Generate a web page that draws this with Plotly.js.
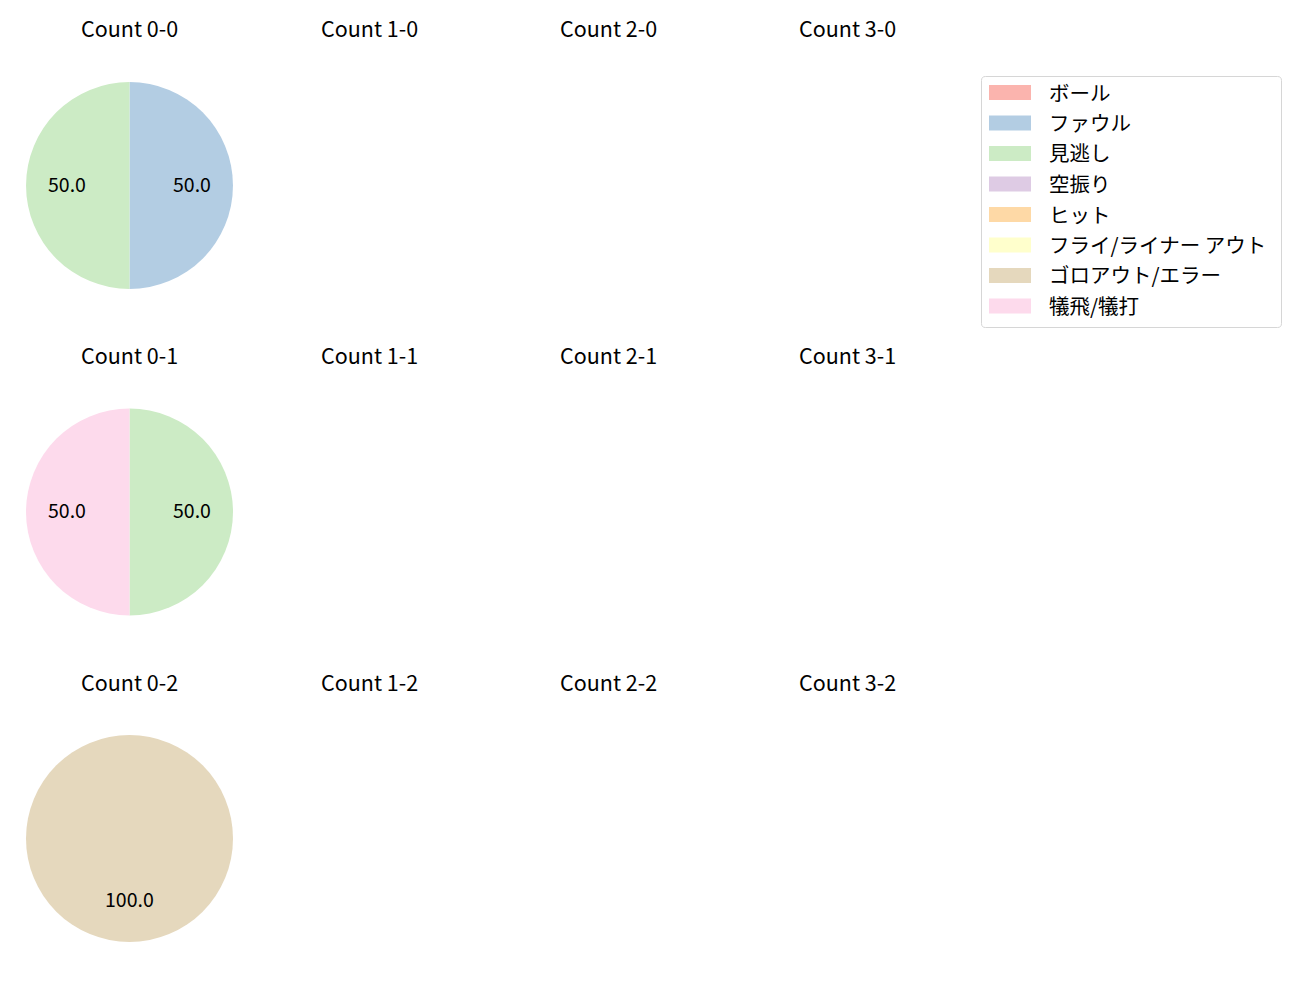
<!DOCTYPE html>
<html>
<head>
<meta charset="utf-8">
<script src="https://cdn.plot.ly/plotly-3.0.1.min.js"></script>
<style>html,body{margin:0;padding:0;background:#fff;}</style>
</head>
<body>
<div id="chart" style="width:1300px;height:1000px;"></div>
<script>
// ---- data ----
const categories = ['ボール','ファウル','見逃し','空振り','ヒット','フライ/ライナー アウト','ゴロアウト/エラー','犠飛/犠打'];
const colors = ['#fbb4ae','#b3cde3','#ccebc5','#decbe4','#fed9a6','#ffffcc','#e5d8bd','#fddaec'];
const countLabels = [
  ['0-0','1-0','2-0','3-0'],
  ['0-1','1-1','2-1','3-1'],
  ['0-2','1-2','2-2','3-2']
];
// percentages per category (same order as categories)
const count00 = [0, 50, 50, 0, 0, 0, 0, 0];
const count01 = [0, 0, 50, 0, 0, 0, 0, 50];
const count02 = [0, 0, 0, 0, 0, 0, 100, 0];
const countValues = {'0-0': count00, '0-1': count01, '0-2': count02};

// ---- layout geometry (pixels) ----
const W = 1300, H = 1000;
const colCenters = [129.5, 369, 608.5, 848];
const rowCenters = [185.5, 512, 838.5];
const R = 103.5;
const titleY = [27, 354, 681];
const FONT = '"Noto Sans CJK JP", "Noto Sans", sans-serif';

const data = [];
const annotations = [];
const shapes = [];

for (let r = 0; r < 3; r++) {
  for (let c = 0; c < 4; c++) {
    const key = countLabels[r][c];
    const cx = colCenters[c], cy = rowCenters[r];
    annotations.push({
      text: 'Count ' + key, x: cx / W, y: 1 - titleY[r] / H,
      xref: 'paper', yref: 'paper', xanchor: 'center', yanchor: 'middle',
      showarrow: false, font: {family: FONT, size: 21.5, color: '#000'}
    });
    const vals = countValues[key];
    if (!vals) continue;
    const labs = [], vs = [], cols = [];
    vals.forEach((v, i) => { if (v > 0) { labs.push(categories[i]); vs.push(v); cols.push(colors[i]); } });
    data.push({
      type: 'pie', labels: labs, values: vs, sort: false, direction: 'clockwise', rotation: 0,
      marker: {colors: cols, line: {width: 0}},
      textinfo: 'none', hoverinfo: 'label+percent', showlegend: false,
      domain: {x: [(cx - R) / W, (cx + R) / W], y: [1 - (cy + R) / H, 1 - (cy - R) / H]}
    });
    // percentage labels at 0.6 radius (mid-angle of each slice)
    const total = vs.reduce((a, b) => a + b, 0);
    let cum = 0;
    vs.forEach(v => {
      const mid = (cum + v / 2) / total * 2 * Math.PI;
      cum += v;
      const tx = cx + 0.6 * R * Math.sin(mid);
      const ty = cy - 0.6 * R * Math.cos(mid) - 2.5;
      annotations.push({
        text: (v / total * 100).toFixed(1), x: tx / W, y: 1 - ty / H,
        xref: 'paper', yref: 'paper', xanchor: 'center', yanchor: 'middle',
        showarrow: false, font: {family: FONT, size: 19.5, color: '#000'}
      });
    });
  }
}

// ---- legend (drawn from categories/colors) ----
const legX0 = 981.5, legY0 = 76.5, legX1 = 1281.5, legY1 = 327.5, rad = 4;
const px = x => (x / W).toFixed(6), py = y => (1 - y / H).toFixed(6);
const framePath =
  'M' + px(legX0 + rad) + ',' + py(legY0) +
  ' L' + px(legX1 - rad) + ',' + py(legY0) +
  ' Q' + px(legX1) + ',' + py(legY0) + ' ' + px(legX1) + ',' + py(legY0 + rad) +
  ' L' + px(legX1) + ',' + py(legY1 - rad) +
  ' Q' + px(legX1) + ',' + py(legY1) + ' ' + px(legX1 - rad) + ',' + py(legY1) +
  ' L' + px(legX0 + rad) + ',' + py(legY1) +
  ' Q' + px(legX0) + ',' + py(legY1) + ' ' + px(legX0) + ',' + py(legY1 - rad) +
  ' L' + px(legX0) + ',' + py(legY0 + rad) +
  ' Q' + px(legX0) + ',' + py(legY0) + ' ' + px(legX0 + rad) + ',' + py(legY0) + ' Z';
shapes.push({type: 'path', xref: 'paper', yref: 'paper', path: framePath,
  line: {color: '#d6d6d6', width: 1}, fillcolor: 'rgba(255,255,255,0.8)', layer: 'above'});
categories.forEach((cat, i) => {
  const yc = 92.5 + i * 30.5;
  shapes.push({type: 'rect', xref: 'paper', yref: 'paper',
    x0: 989 / W, x1: 1031 / W, y0: 1 - (yc + 7.5) / H, y1: 1 - (yc - 7.5) / H,
    line: {width: 0}, fillcolor: colors[i], layer: 'above'});
  annotations.push({
    text: cat, x: 1047 / W, y: 1 - (yc - 1) / H, xref: 'paper', yref: 'paper',
    xanchor: 'left', yanchor: 'middle', showarrow: false,
    font: {family: FONT, size: 20.5, color: '#000'}
  });
});

const layout = {
  width: W, height: H, margin: {l: 0, r: 0, t: 0, b: 0},
  paper_bgcolor: '#fff', plot_bgcolor: '#fff', showlegend: false,
  annotations: annotations, shapes: shapes
};
Plotly.newPlot('chart', data, layout, {displayModeBar: false, staticPlot: true});
</script>
</body>
</html>
